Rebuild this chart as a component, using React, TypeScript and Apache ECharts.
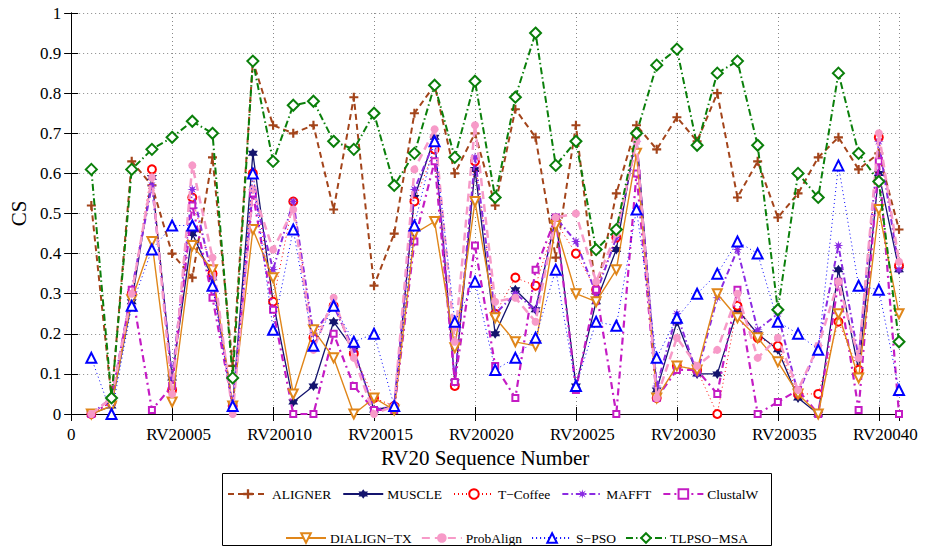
import React, { useEffect, useRef } from "react";
import * as echarts from "echarts";

const seriesNames = ["ALIGNER", "MUSCLE", "T\u2212Coffee", "MAFFT", "ClustalW", "DIALIGN\u2212TX", "ProbAlign", "S\u2212PSO", "TLPSO\u2212MSA"];

const aligner = [0.52, 0.04, 0.63, 0.57, 0.40, 0.34, 0.64, 0.12, 0.88, 0.72, 0.70, 0.72, 0.51, 0.79, 0.32, 0.45, 0.75, 0.82, 0.60, 0.70, 0.52, 0.76, 0.69, 0.39, 0.72, 0.30, 0.55, 0.72, 0.66, 0.74, 0.68, 0.80, 0.54, 0.63, 0.49, 0.55, 0.64, 0.69, 0.61, 0.65, 0.46];
const muscle = [0, 0.02, 0.28, 0.59, 0.09, 0.45, 0.34, 0.02, 0.65, 0.28, 0.03, 0.07, 0.23, 0.16, 0.01, 0.02, 0.54, 0.69, 0.08, 0.61, 0.20, 0.31, 0.26, 0.49, 0.07, 0.28, 0.41, 0.70, 0.06, 0.23, 0.10, 0.10, 0.26, 0.20, 0.16, 0.04, 0, 0.36, 0.11, 0.60, 0.36];
const tcoffee = [0, 0.03, 0.30, 0.61, 0.06, 0.54, 0.35, 0.02, 0.60, 0.28, 0.53, 0.19, 0.27, 0.15, 0.04, 0.02, 0.53, 0.66, 0.07, 0.63, 0.25, 0.34, 0.32, 0.48, 0.40, 0.31, 0.44, 0.70, 0.04, 0.12, 0.11, 0, 0.27, 0.19, 0.17, 0.05, 0.05, 0.23, 0.11, 0.69, 0.37];
const mafft = [0, 0.04, 0.31, 0.57, 0.09, 0.56, 0.34, 0.02, 0.56, 0.36, 0.53, 0.20, 0.27, 0.16, 0.01, 0.02, 0.56, 0.68, 0.08, 0.64, 0.25, 0.30, 0.26, 0.49, 0.43, 0.30, 0.44, 0.68, 0.07, 0.25, 0.10, 0.29, 0.41, 0.21, 0.25, 0.05, 0.17, 0.42, 0.14, 0.68, 0.36];
const clustalw = [0, 0.03, 0.31, 0.01, 0.07, 0.52, 0.29, 0.02, 0.55, 0.26, 0, 0, 0.20, 0.07, 0.01, 0.01, 0.43, 0.63, 0.08, 0.42, 0.12, 0.04, 0.36, 0.49, 0.06, 0.31, 0, 0.60, 0.04, 0.11, 0.11, 0.05, 0.31, 0, 0.03, 0.06, 0, 0.33, 0.01, 0.63, 0];
const dialign = [0, 0.02, 0.285, 0.43, 0.03, 0.42, 0.36, 0.02, 0.46, 0.34, 0.05, 0.21, 0.14, 0, 0.04, 0.01, 0.45, 0.48, 0.165, 0.53, 0.24, 0.18, 0.17, 0.47, 0.30, 0.28, 0.36, 0.65, 0.04, 0.12, 0.11, 0.30, 0.24, 0.19, 0.13, 0.05, 0, 0.25, 0.09, 0.51, 0.25];
const probalign = [0, 0.04, 0.30, 0.59, 0.05, 0.62, 0.39, 0, 0.56, 0.41, 0.51, 0.16, 0.29, 0.14, 0, 0.02, 0.61, 0.71, 0.18, 0.72, 0.28, 0.29, 0.23, 0.49, 0.50, 0.33, 0.45, 0.68, 0.04, 0.19, 0.12, 0.16, 0.30, 0.14, 0.19, 0.06, 0.17, 0.33, 0.14, 0.70, 0.38];
const spso = [0.14, 0, 0.27, 0.41, 0.47, 0.47, 0.32, 0.02, 0.60, 0.21, 0.46, 0.17, 0.27, 0.18, 0.20, 0.02, 0.47, 0.68, 0.23, 0.33, 0.11, 0.14, 0.19, 0.36, 0.07, 0.23, 0.22, 0.51, 0.14, 0.24, 0.30, 0.35, 0.43, 0.40, 0.23, 0.20, 0.16, 0.62, 0.32, 0.31, 0.06];
const tlpso = [0.61, 0.04, 0.61, 0.66, 0.69, 0.73, 0.70, 0.09, 0.88, 0.63, 0.77, 0.78, 0.68, 0.66, 0.75, 0.57, 0.65, 0.82, 0.64, 0.83, 0.54, 0.79, 0.95, 0.62, 0.68, 0.41, 0.46, 0.70, 0.87, 0.91, 0.67, 0.85, 0.88, 0.67, 0.26, 0.60, 0.54, 0.85, 0.65, 0.58, 0.18];

const xTicks = [0, 5, 10, 15, 20, 25, 30, 35, 40];
const xTickLabels = ["0", "RV20005", "RV20010", "RV20015", "RV20020", "RV20025", "RV20030", "RV20035", "RV20040"];

const FONT = "Liberation Serif";

const PLUS = "path://M3.8,0H6.2V3.8H10V6.2H6.2V10H3.8V6.2H0V3.8H3.8Z";
const HEXAGRAM = "path://M10,0L12.885,5L18.66,5L15.77,10L18.66,15L12.885,15L10,20L7.115,15L1.34,15L4.23,10L1.34,5L7.115,5Z";
const ASTERISK = "path://M20,10L13.696,11.531L17.071,17.071L11.531,13.696L10,20L8.469,13.696L2.929,17.071L6.304,11.531L0,10L6.304,8.469L2.929,2.929L8.469,6.304L10,0L11.531,6.304L17.071,2.929L13.696,8.469Z";

export default function App() {
  const ref = useRef<HTMLDivElement>(null);
  useEffect(() => {
    if (!ref.current) return;
    const chart = echarts.init(ref.current, null, { renderer: "svg" });
    const toData = (arr: number[]) => arr.map((v, i) => [i + 1, v]);
    const styles = [
      { d: aligner, color: "#a3441a", width: 2, type: [6, 4], symbol: PLUS, size: 9 },
      { d: muscle, color: "#14146e", width: 1.3, type: "solid", symbol: HEXAGRAM, size: 10 },
      { d: tcoffee, color: "#ff0000", width: 1, type: [1, 3], symbol: "emptyCircle", size: 8, bw: 2 },
      { d: mafft, color: "#8a2be2", width: 2, type: [6, 3, 1.5, 3], symbol: ASTERISK, size: 10 },
      { d: clustalw, color: "#c41cc4", width: 2.2, type: [7, 4, 2, 4], symbol: "emptyRect", size: 6, bw: 1.5 },
      { d: dialign, color: "#e0861a", width: 1.4, type: "solid", symbol: "emptyTriangle", size: 9, bw: 1.5, rot: 180 },
      { d: probalign, color: "#f79ac8", width: 2.5, type: [8, 5], symbol: "circle", size: 8 },
      { d: spso, color: "#0000ff", width: 1, type: [1, 3], symbol: "emptyTriangle", size: 10, bw: 2 },
      { d: tlpso, color: "#0a7f0a", width: 2, type: [7, 3, 1.5, 3], symbol: "emptyDiamond", size: 11, bw: 2 },
    ];
    const series = styles.map((s, i) => ({
      name: seriesNames[i],
      type: "line",
      data: toData(s.d),
      xAxisIndex: 0,
      yAxisIndex: 0,
      showSymbol: true,
      showAllSymbol: true,
      symbol: s.symbol,
      symbolSize: s.size,
      symbolRotate: (s as any).rot || 0,
      lineStyle: { color: s.color, width: s.width, type: s.type as any },
      itemStyle: { color: s.color, borderColor: s.color, borderWidth: (s as any).bw || 0 },
      emphasis: { disabled: true },
      z: 2 + i,
    }));
    const axisCommon = {
      axisLine: { show: true, lineStyle: { color: "#000", width: 1 } },
      axisTick: { show: true, inside: true, length: 7, lineStyle: { color: "#000" } },
    };
    const legendCommon = {
      itemWidth: 40,
      itemHeight: 12,
      textStyle: { fontFamily: FONT, fontSize: 13.5, color: "#000", padding: [0, 0, 0, -1] },
      selectedMode: false,
    };
    chart.setOption({
      animation: false,
      backgroundColor: "#fff",
      textStyle: { fontFamily: FONT },
      grid: { left: 69, top: 13, width: 830, height: 401, containLabel: false },
      xAxis: [
        {
          type: "value",
          min: 0,
          max: 41,
          interval: 5,
          position: "bottom",
          ...axisCommon,
          splitLine: { show: true, lineStyle: { color: "#888", type: [1, 3], width: 1 } },
          axisLabel: {
            show: true,
            margin: 12,
            color: "#000",
            fontFamily: FONT,
            fontSize: 17,
            showMaxLabel: false,
            formatter: (v: number) => {
              const idx = xTicks.indexOf(v);
              if (idx < 0) return "";
              if (v === 0) return xTickLabels[idx];
              return "{r|" + xTickLabels[idx] + "}";
            },
            rich: { r: { fontFamily: FONT, fontSize: 17, color: "#000", padding: [0, 0, 0, 13] } },
          },
          name: "RV20 Sequence Number",
          nameLocation: "middle",
          nameGap: 33,
          nameTextStyle: { fontFamily: FONT, fontSize: 21, color: "#000" },
        },
        {
          type: "value",
          min: 0,
          max: 41,
          interval: 5,
          position: "top",
          ...axisCommon,
          splitLine: { show: false },
          axisLabel: { show: false },
        },
      ],
      yAxis: [
        {
          type: "value",
          min: 0,
          max: 1,
          interval: 0.1,
          position: "left",
          ...axisCommon,
          splitLine: { show: true, lineStyle: { color: "#888", type: [1, 3], width: 1 } },
          axisLabel: { color: "#000", fontFamily: FONT, fontSize: 17, margin: 10 },
          name: "CS",
          nameLocation: "middle",
          nameGap: 30,
          nameTextStyle: { fontFamily: FONT, fontSize: 21, color: "#000" },
        },
        {
          type: "value",
          min: 0,
          max: 1,
          interval: 0.1,
          position: "right",
          ...axisCommon,
          splitLine: { show: false },
          axisLabel: { show: false },
        },
      ],
      legend: [
        { data: seriesNames.slice(0, 5), left: 222, top: 482, itemGap: 11, ...legendCommon },
        { data: seriesNames.slice(5), left: 280, top: 526, itemGap: 9, ...legendCommon },
      ],
      graphic: [
        {
          type: "rect",
          shape: { x: 222.5, y: 473.5, width: 549, height: 72 },
          style: { fill: "#fff", stroke: "#000", lineWidth: 1 },
          z: -1,
          silent: true,
        },
      ],
      series,
    });
    return () => chart.dispose();
  }, []);
  return <div ref={ref} style={{ position: "fixed", left: 0, top: 0, width: 933, height: 549 }} />;
}
